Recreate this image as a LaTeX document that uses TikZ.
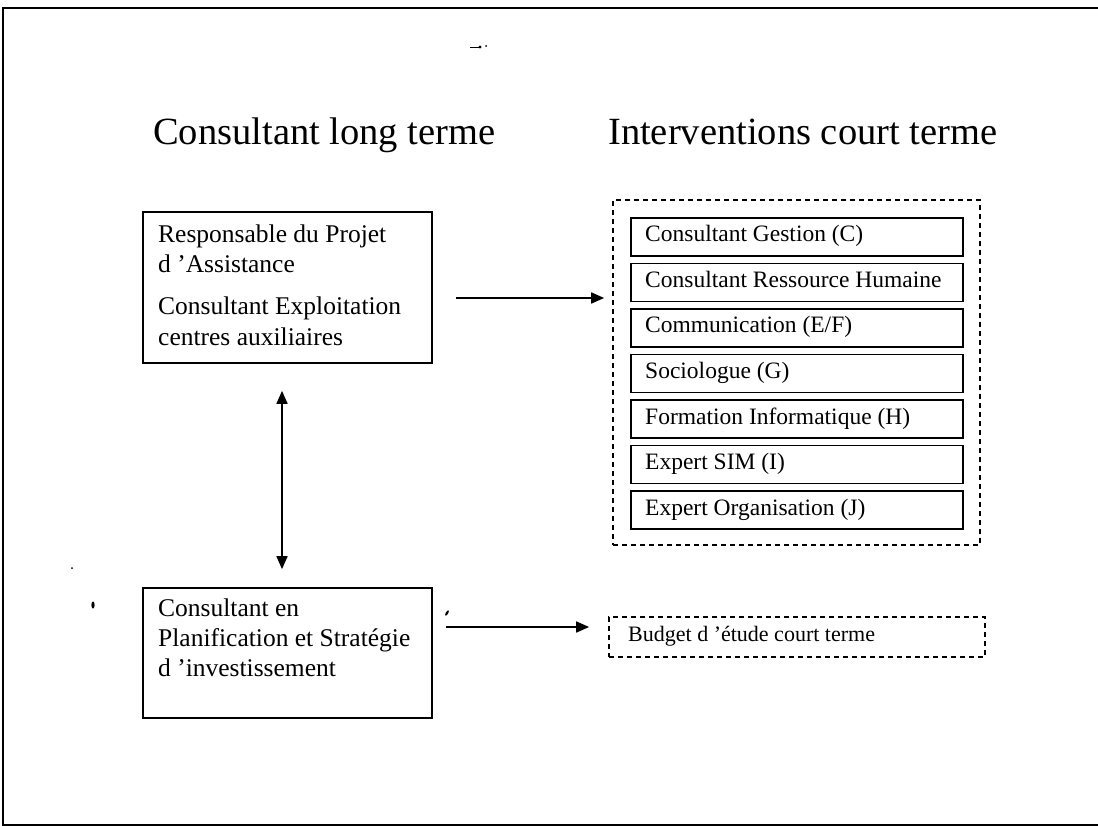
\documentclass[tikz,border=0pt]{standalone}
\usepackage{fontspec}
\setmainfont{Liberation Serif}
\usetikzlibrary{arrows.meta}

\begin{document}
\begin{tikzpicture}[x=1pt,y=-1pt,
  frameline/.style={line width=2pt},
  solidbox/.style={draw, line width=1.7pt, inner sep=0pt},
  dashbox/.style={draw, line width=1.7pt, inner sep=0pt, dash pattern=on 5pt off 4pt},
  arr/.style={line width=1.7pt, -{Triangle[length=13pt,width=11pt]}},
  dblarr/.style={line width=1.7pt, {Triangle[length=13pt,width=11pt]}-{Triangle[length=13pt,width=11pt]}},
  titletext/.style={anchor=base west, inner sep=0pt, font=\fontsize{38.5}{40}\selectfont},
  boxtext/.style={anchor=base west, inner sep=0pt, font=\fontsize{25.5}{28}\selectfont},
  rowtext/.style={anchor=base west, inner sep=0pt, font=\fontsize{23.5}{26}\selectfont},
  smalltext/.style={anchor=base west, inner sep=0pt, font=\fontsize{22}{24}\selectfont}
]
\useasboundingbox (0,0) rectangle (1098,826);
\fill[white] (0,0) rectangle (1098,826);

% page frame (top, left and bottom edges)
\draw[frameline] (1098,8) -- (3,8) -- (3,825) -- (1098,825);

% column headings
\node[titletext] (tl) at (153,145) {Consultant long terme};
\node[titletext] (tr) at (608,145) {Interventions court terme};

% long-term consultants
\node[solidbox, minimum width=289pt, minimum height=151pt] (lt) at (287.5,287.5) {};
\node[boxtext] (lt1) at (158,243) {Responsable du Projet};
\node[boxtext] (lt2) at (158,273) {d 'Assistance};
\node[boxtext] (lt3) at (158,315) {Consultant Exploitation};
\node[boxtext] (lt4) at (158,345) {centres auxiliaires};

\node[solidbox, minimum width=289pt, minimum height=130pt] (lb) at (287.5,653) {};
\node[boxtext] (lb1) at (158,616) {Consultant en};
\node[boxtext] (lb2) at (158,646) {Planification et Stratégie};
\node[boxtext] (lb3) at (158,676) {d 'investissement};

% short-term interventions
\node[dashbox, minimum width=367pt, minimum height=345pt] (grp) at (796.5,372.5) {};
\foreach \i/\txt in {0/{Consultant Gestion (C)},
                     1/{Consultant Ressource Humaine},
                     2/{Communication (E/F)},
                     3/{Sociologue (G)},
                     4/{Formation Informatique (H)},
                     5/{Expert SIM (I)},
                     6/{Expert Organisation (J)}}{
  \node[solidbox, minimum width=332pt, minimum height=38pt] (row\i) at (797,237+45.5*\i) {};
  \node[rowtext] (rowt\i) at (645,242+45.5*\i) {\txt};
}

\node[dashbox, minimum width=376pt, minimum height=40pt] (bud) at (797,637) {};
\node[smalltext] (budt) at (628,641) {Budget d 'étude court terme};

% connectors
\path ([shift={(23,10.5)}]lt.east) coordinate (s1);
\draw[arr] (s1) -- ([xshift=-8pt]grp.west |- s1);
\path ([shift={(13,-26)}]lb.east) coordinate (s2);
\draw[arr] (s2) -- ([xshift=-19pt]bud.west |- s2);
\draw[dblarr] ([shift={(-5.5,27)}]lt.south) -- ([shift={(-5.5,-18)}]lb.north);

% stray marks
\fill (93,605) ellipse (1.6pt and 3.5pt);
\fill[rotate around={-30:(447,613)}] (447,613) ellipse (1.2pt and 3pt);
\draw[line width=1pt] (470,48) -- (480,48);
\fill (480,47) circle (1.6pt);
\fill (486,46) circle (1pt);
\fill (72,568) circle (1pt);
\end{tikzpicture}
\end{document}
